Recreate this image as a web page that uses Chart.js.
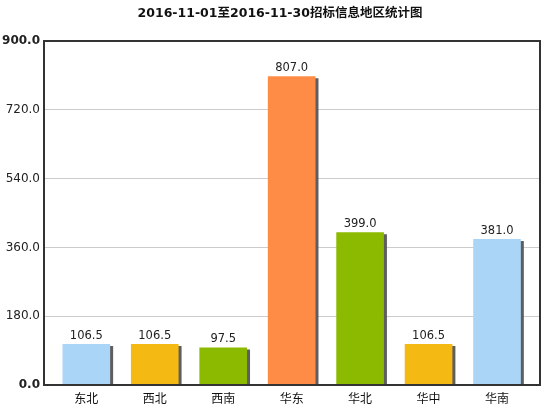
<!DOCTYPE html>
<html>
<head>
<meta charset="utf-8">
<script src="https://cdn.jsdelivr.net/npm/chart.js@4/dist/chart.umd.min.js"></script>
<style>
  html, body { margin: 0; padding: 0; background: #ffffff; }
  #wrap { width: 543px; height: 408px; }
</style>
</head>
<body>
<div id="wrap"><canvas id="c" width="543" height="408"></canvas></div>
<script>
// Region names and counts of tender notices, 2016-11-01 .. 2016-11-30
const categories = ['东北', '西北', '西南', '华东', '华北', '华中', '华南'];
const counts = [106.5, 106.5, 97.5, 807.0, 399.0, 106.5, 381.0];
const barColors = ['#abd5f7', '#f5b914', '#8cba00', '#ff8c46', '#8cba00', '#f5b914', '#abd5f7'];
const yTicks = [0, 180, 360, 540, 720, 900];
const titleText = '2016-11-01至2016-11-30招标信息地区统计图';

const FONT = "'DejaVu Sans', 'Noto Sans CJK SC', sans-serif";
const CJK = "'Noto Sans CJK SC', 'DejaVu Sans', sans-serif";

// Heading above the plot, centred a little right of the canvas middle
const heading = {
  id: 'heading',
  afterDraw(chart) {
    const ctx = chart.ctx;
    ctx.save();
    ctx.font = 'bold 12.5px ' + FONT;
    ctx.fillStyle = '#111111';
    ctx.textAlign = 'center';
    ctx.textBaseline = 'middle';
    ctx.fillText(titleText, 280, 14);
    ctx.restore();
  }
};

// Drop shadow to the lower right of each bar
const barShadow = {
  id: 'barShadow',
  beforeDatasetDraw(chart) {
    const ctx = chart.ctx;
    ctx.save();
    ctx.shadowColor = 'rgba(85,85,85,0.95)';
    ctx.shadowOffsetX = 3;
    ctx.shadowOffsetY = 2;
    ctx.shadowBlur = 0;
  },
  afterDatasetDraw(chart) {
    chart.ctx.restore();
  }
};

// Value printed above each bar
const valueLabels = {
  id: 'valueLabels',
  afterDatasetsDraw(chart) {
    const ctx = chart.ctx;
    const meta = chart.getDatasetMeta(0);
    ctx.save();
    ctx.font = '11.5px ' + FONT;
    ctx.fillStyle = '#222222';
    ctx.textAlign = 'center';
    ctx.textBaseline = 'bottom';
    meta.data.forEach((bar, i) => {
      ctx.fillText(counts[i].toFixed(1), bar.x, bar.y - 3);
    });
    ctx.restore();
  }
};

// Dark frame around the plotting area
const plotFrame = {
  id: 'plotFrame',
  afterDraw(chart) {
    const a = chart.chartArea;
    const ctx = chart.ctx;
    ctx.save();
    ctx.strokeStyle = '#333333';
    ctx.lineWidth = 2;
    ctx.strokeRect(a.left, a.top, a.right - a.left, a.bottom - a.top);
    ctx.restore();
  }
};

new Chart(document.getElementById('c'), {
  type: 'bar',
  data: {
    datasets: [{
      data: counts.map((v, i) => ({ x: i, y: v })),
      backgroundColor: barColors,
      borderWidth: 0,
      barThickness: 47
    }]
  },
  options: {
    responsive: false,
    animation: false,
    layout: { padding: { left: 0, right: 3, top: 41, bottom: 0 } },
    plugins: {
      legend: { display: false },
      tooltip: { enabled: false },
      title: { display: false }
    },
    scales: {
      x: {
        type: 'linear',
        min: -0.618,
        max: 6.628,
        offset: false,
        grid: { display: false, drawTicks: false },
        border: { display: false },
        afterBuildTicks(scale) {
          scale.ticks = categories.map((_, i) => ({ value: i }));
        },
        afterFit(scale) { scale.height = 23; },
        ticks: {
          autoSkip: false,
          maxRotation: 0,
          padding: 6,
          color: '#111111',
          font: { family: CJK, size: 12 },
          callback: (v) => categories[v]
        }
      },
      y: {
        min: 0,
        max: 900,
        afterBuildTicks(scale) {
          scale.ticks = yTicks.map(v => ({ value: v }));
        },
        afterFit(scale) { scale.width = 44; },
        grid: { color: '#cccccc', lineWidth: 1, drawTicks: false },
        border: { display: false },
        ticks: {
          padding: 4,
          color: '#222222',
          font: (ctx) => ({
            family: FONT,
            size: 12,
            weight: (ctx.index === 0 || ctx.index === yTicks.length - 1) ? 'bold' : 'normal'
          }),
          callback: (v) => Number(v).toFixed(1)
        }
      }
    }
  },
  plugins: [barShadow, valueLabels, plotFrame, heading]
});
</script>
</body>
</html>
